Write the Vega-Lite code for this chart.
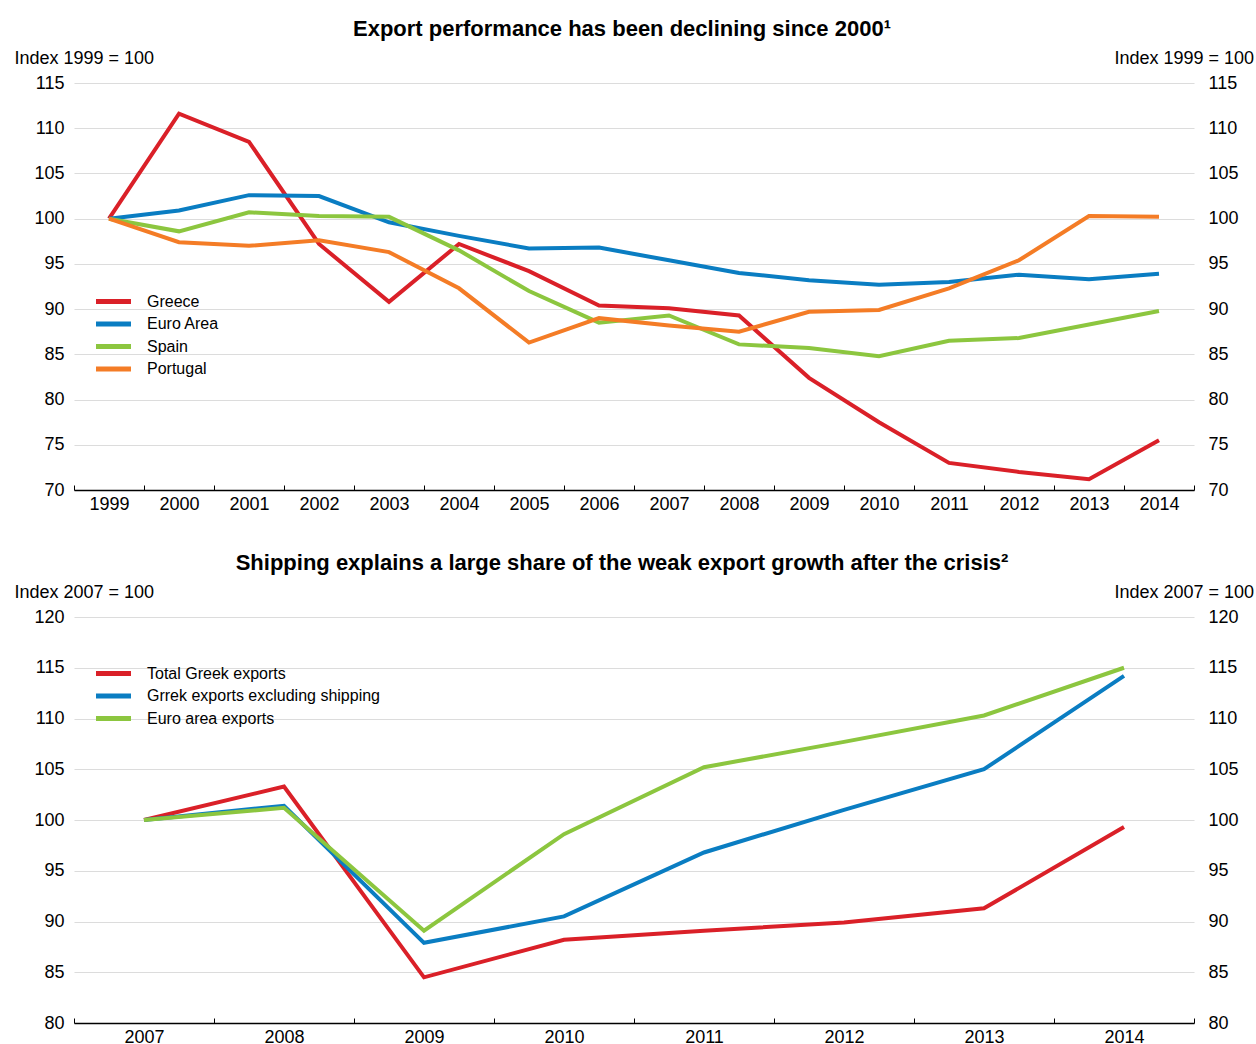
{
  "$schema": "https://vega.github.io/schema/vega-lite/v6.json",
  "padding": {"left": 14, "top": 18, "right": 0, "bottom": 0},
  "background": "white",
  "spacing": 39,
  "config": {
    "font": "Liberation Sans",
    "view": {"stroke": null},
    "axis": {
      "labelFont": "Liberation Sans",
      "labelFontSize": 18,
      "labelColor": "black",
      "titleFont": "Liberation Sans",
      "titleFontSize": 18,
      "titleFontWeight": "normal",
      "titleColor": "black"
    },
    "title": {"font": "Liberation Sans", "fontSize": 22, "fontWeight": "bold", "color": "black", "offset": 8},
    "legend": {
      "orient": "none",
      "title": null,
      "padding": 0,
      "symbolType": "M-2,0H2",
      "symbolSize": 306,
      "symbolStrokeWidth": 5,
      "labelFont": "Liberation Sans",
      "labelFontSize": 16,
      "labelColor": "black",
      "labelOffset": 22,
      "labelLimit": 400,
      "rowPadding": 0.5
    }
  },
  "datasets": {
    "top": [
      {"year": 1999, "series": "Greece", "value": 100},
      {"year": 2000, "series": "Greece", "value": 111.6},
      {"year": 2001, "series": "Greece", "value": 108.5},
      {"year": 2002, "series": "Greece", "value": 97.2},
      {"year": 2003, "series": "Greece", "value": 90.8},
      {"year": 2004, "series": "Greece", "value": 97.2},
      {"year": 2005, "series": "Greece", "value": 94.2},
      {"year": 2006, "series": "Greece", "value": 90.4},
      {"year": 2007, "series": "Greece", "value": 90.1},
      {"year": 2008, "series": "Greece", "value": 89.3},
      {"year": 2009, "series": "Greece", "value": 82.4},
      {"year": 2010, "series": "Greece", "value": 77.5},
      {"year": 2011, "series": "Greece", "value": 73.0},
      {"year": 2012, "series": "Greece", "value": 72.0},
      {"year": 2013, "series": "Greece", "value": 71.2},
      {"year": 2014, "series": "Greece", "value": 75.5},
      {"year": 1999, "series": "Euro Area", "value": 100},
      {"year": 2000, "series": "Euro Area", "value": 100.9},
      {"year": 2001, "series": "Euro Area", "value": 102.6},
      {"year": 2002, "series": "Euro Area", "value": 102.5},
      {"year": 2003, "series": "Euro Area", "value": 99.6},
      {"year": 2004, "series": "Euro Area", "value": 98.1},
      {"year": 2005, "series": "Euro Area", "value": 96.7},
      {"year": 2006, "series": "Euro Area", "value": 96.8},
      {"year": 2007, "series": "Euro Area", "value": 95.4},
      {"year": 2008, "series": "Euro Area", "value": 94.0},
      {"year": 2009, "series": "Euro Area", "value": 93.2},
      {"year": 2010, "series": "Euro Area", "value": 92.7},
      {"year": 2011, "series": "Euro Area", "value": 93.0},
      {"year": 2012, "series": "Euro Area", "value": 93.8},
      {"year": 2013, "series": "Euro Area", "value": 93.3},
      {"year": 2014, "series": "Euro Area", "value": 93.9},
      {"year": 1999, "series": "Spain", "value": 100},
      {"year": 2000, "series": "Spain", "value": 98.6},
      {"year": 2001, "series": "Spain", "value": 100.7},
      {"year": 2002, "series": "Spain", "value": 100.3},
      {"year": 2003, "series": "Spain", "value": 100.2},
      {"year": 2004, "series": "Spain", "value": 96.5},
      {"year": 2005, "series": "Spain", "value": 92.0},
      {"year": 2006, "series": "Spain", "value": 88.5},
      {"year": 2007, "series": "Spain", "value": 89.3},
      {"year": 2008, "series": "Spain", "value": 86.1},
      {"year": 2009, "series": "Spain", "value": 85.7},
      {"year": 2010, "series": "Spain", "value": 84.8},
      {"year": 2011, "series": "Spain", "value": 86.5},
      {"year": 2012, "series": "Spain", "value": 86.8},
      {"year": 2013, "series": "Spain", "value": 88.3},
      {"year": 2014, "series": "Spain", "value": 89.8},
      {"year": 1999, "series": "Portugal", "value": 100},
      {"year": 2000, "series": "Portugal", "value": 97.4},
      {"year": 2001, "series": "Portugal", "value": 97.0},
      {"year": 2002, "series": "Portugal", "value": 97.6},
      {"year": 2003, "series": "Portugal", "value": 96.3},
      {"year": 2004, "series": "Portugal", "value": 92.3},
      {"year": 2005, "series": "Portugal", "value": 86.3},
      {"year": 2006, "series": "Portugal", "value": 89.0},
      {"year": 2007, "series": "Portugal", "value": 88.2},
      {"year": 2008, "series": "Portugal", "value": 87.5},
      {"year": 2009, "series": "Portugal", "value": 89.7},
      {"year": 2010, "series": "Portugal", "value": 89.9},
      {"year": 2011, "series": "Portugal", "value": 92.3},
      {"year": 2012, "series": "Portugal", "value": 95.4},
      {"year": 2013, "series": "Portugal", "value": 100.3},
      {"year": 2014, "series": "Portugal", "value": 100.2}
    ],
    "bottom": [
      {"year": 2007, "series": "Total Greek exports", "value": 100},
      {"year": 2008, "series": "Total Greek exports", "value": 103.3},
      {"year": 2009, "series": "Total Greek exports", "value": 84.5},
      {"year": 2010, "series": "Total Greek exports", "value": 88.2},
      {"year": 2011, "series": "Total Greek exports", "value": 89.1},
      {"year": 2012, "series": "Total Greek exports", "value": 89.9},
      {"year": 2013, "series": "Total Greek exports", "value": 91.3},
      {"year": 2014, "series": "Total Greek exports", "value": 99.3},
      {"year": 2007, "series": "Grrek exports excluding shipping", "value": 100},
      {"year": 2008, "series": "Grrek exports excluding shipping", "value": 101.4},
      {"year": 2009, "series": "Grrek exports excluding shipping", "value": 87.9},
      {"year": 2010, "series": "Grrek exports excluding shipping", "value": 90.5},
      {"year": 2011, "series": "Grrek exports excluding shipping", "value": 96.8},
      {"year": 2012, "series": "Grrek exports excluding shipping", "value": 101.0},
      {"year": 2013, "series": "Grrek exports excluding shipping", "value": 105.0},
      {"year": 2014, "series": "Grrek exports excluding shipping", "value": 114.2},
      {"year": 2007, "series": "Euro area exports", "value": 100},
      {"year": 2008, "series": "Euro area exports", "value": 101.2},
      {"year": 2009, "series": "Euro area exports", "value": 89.1},
      {"year": 2010, "series": "Euro area exports", "value": 98.6},
      {"year": 2011, "series": "Euro area exports", "value": 105.2},
      {"year": 2012, "series": "Euro area exports", "value": 107.7},
      {"year": 2013, "series": "Euro area exports", "value": 110.3},
      {"year": 2014, "series": "Euro area exports", "value": 115.0}
    ]
  },
  "vconcat": [
    {
      "width": 1120,
      "height": 407,
      "title": {"text": "Export performance has been declining since 2000¹", "dx": -12},
      "data": {"name": "top"},
      "encoding": {
        "x": {
          "field": "year",
          "type": "ordinal",
          "bandPosition": 0.5,
          "scale": {"type": "band", "paddingInner": 0, "paddingOuter": 0},
          "axis": {
            "title": null,
            "labelAngle": 0,
            "tickBand": "extent",
            "tickSize": -5,
            "tickColor": "black",
            "domainColor": "black",
            "domainWidth": 1.5,
            "labelPadding": 10,
            "grid": false
          }
        }
      },
      "layer": [
        {
          "mark": {"type": "line", "strokeWidth": 4},
          "encoding": {
            "y": {
              "field": "value",
              "type": "quantitative",
              "scale": {"domain": [70, 115], "nice": false, "zero": false},
              "axis": {
                "values": [70, 75, 80, 85, 90, 95, 100, 105, 110, 115],
                "title": "Index 1999 = 100",
                "titleAngle": 0,
                "titleAlign": "left",
                "titleBaseline": "middle",
                "titleX": -60,
                "titleY": -25,
                "grid": true,
                "gridColor": "#dcdcdc",
                "gridWidth": 1.2,
                "domain": false,
                "ticks": false,
                "labelPadding": 10
              }
            },
            "color": {
              "field": "series",
              "type": "nominal",
              "sort": ["Greece", "Euro Area", "Spain", "Portugal"],
              "scale": {
                "domain": ["Greece", "Euro Area", "Spain", "Portugal"],
                "range": ["#da2028", "#0a7dc2", "#8cc63f", "#f47c26"]
              },
              "legend": {"legendX": 28, "legendY": 207}
            }
          }
        },
        {
          "mark": {"type": "line", "opacity": 0},
          "encoding": {
            "y": {
              "field": "value",
              "type": "quantitative",
              "scale": {"domain": [70, 115], "nice": false, "zero": false},
              "axis": {
                "orient": "right",
                "values": [70, 75, 80, 85, 90, 95, 100, 105, 110, 115],
                "title": "Index 1999 = 100",
                "titleAngle": 0,
                "titleAlign": "left",
                "titleBaseline": "middle",
                "titleX": -80,
                "titleY": -25,
                "grid": false,
                "domain": false,
                "ticks": false,
                "labelPadding": 14
              }
            },
            "detail": {"field": "series"}
          }
        }
      ],
      "resolve": {"scale": {"y": "independent"}}
    },
    {
      "width": 1120,
      "height": 406,
      "title": {"text": "Shipping explains a large share of the weak export growth after the crisis²", "dx": -12},
      "data": {"name": "bottom"},
      "encoding": {
        "x": {
          "field": "year",
          "type": "ordinal",
          "bandPosition": 0.5,
          "scale": {"type": "band", "paddingInner": 0, "paddingOuter": 0},
          "axis": {
            "title": null,
            "labelAngle": 0,
            "tickBand": "extent",
            "tickSize": -5,
            "tickColor": "black",
            "domainColor": "black",
            "domainWidth": 1.5,
            "labelPadding": 10,
            "grid": false
          }
        }
      },
      "layer": [
        {
          "mark": {"type": "line", "strokeWidth": 4},
          "encoding": {
            "y": {
              "field": "value",
              "type": "quantitative",
              "scale": {"domain": [80, 120], "nice": false, "zero": false},
              "axis": {
                "values": [80, 85, 90, 95, 100, 105, 110, 115, 120],
                "title": "Index 2007 = 100",
                "titleAngle": 0,
                "titleAlign": "left",
                "titleBaseline": "middle",
                "titleX": -60,
                "titleY": -25,
                "grid": true,
                "gridColor": "#dcdcdc",
                "gridWidth": 1.2,
                "domain": false,
                "ticks": false,
                "labelPadding": 10
              }
            },
            "color": {
              "field": "series",
              "type": "nominal",
              "sort": ["Total Greek exports", "Grrek exports excluding shipping", "Euro area exports"],
              "scale": {
                "domain": ["Total Greek exports", "Grrek exports excluding shipping", "Euro area exports"],
                "range": ["#da2028", "#0a7dc2", "#8cc63f"]
              },
              "legend": {"legendX": 28, "legendY": 45}
            }
          }
        },
        {
          "mark": {"type": "line", "opacity": 0},
          "encoding": {
            "y": {
              "field": "value",
              "type": "quantitative",
              "scale": {"domain": [80, 120], "nice": false, "zero": false},
              "axis": {
                "orient": "right",
                "values": [80, 85, 90, 95, 100, 105, 110, 115, 120],
                "title": "Index 2007 = 100",
                "titleAngle": 0,
                "titleAlign": "left",
                "titleBaseline": "middle",
                "titleX": -80,
                "titleY": -25,
                "grid": false,
                "domain": false,
                "ticks": false,
                "labelPadding": 14
              }
            },
            "detail": {"field": "series"}
          }
        }
      ],
      "resolve": {"scale": {"y": "independent"}}
    }
  ],
  "resolve": {"scale": {"color": "independent"}, "legend": {"color": "independent"}}
}
